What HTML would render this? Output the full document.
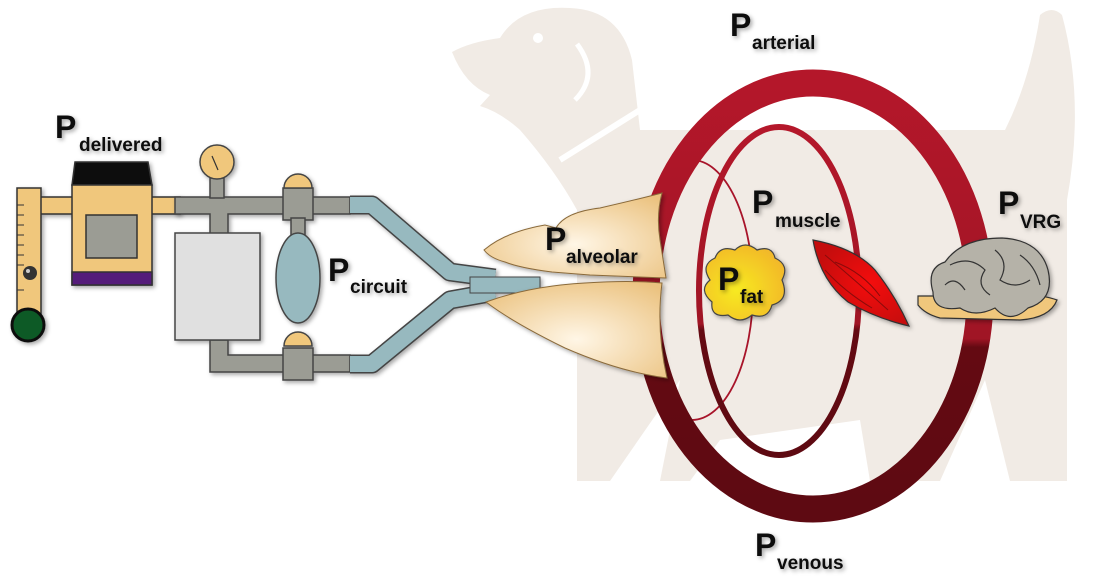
<!DOCTYPE html>
<html><head><meta charset="utf-8"><style>
html,body{margin:0;padding:0;background:#fff;width:1110px;height:581px;overflow:hidden}
text{font-family:"Liberation Sans Narrow","Liberation Sans",sans-serif;font-weight:bold;fill:#111}
.p{font-size:32px;font-family:"Liberation Sans",sans-serif}.s{font-size:19px}
</style></head><body>
<svg width="1110" height="581" viewBox="0 0 1110 581" xmlns="http://www.w3.org/2000/svg">
<defs>
<linearGradient id="ring" x1="0" y1="0" x2="0" y2="1"><stop offset="0" stop-color="#b4172a"/><stop offset="0.6" stop-color="#a01525"/><stop offset="0.62" stop-color="#640a12"/><stop offset="1" stop-color="#5e0a12"/></linearGradient>
<radialGradient id="lung" cx="0.5" cy="0.6" r="0.7"><stop offset="0" stop-color="#fff6e6"/><stop offset="1" stop-color="#ebc27f"/></radialGradient>
<radialGradient id="fat" cx="0.4" cy="0.6" r="0.7"><stop offset="0" stop-color="#f7ea20"/><stop offset="1" stop-color="#f2b52a"/></radialGradient>
<radialGradient id="mus" cx="0.6" cy="0.5" r="0.6"><stop offset="0" stop-color="#f40a0a"/><stop offset="1" stop-color="#c40f10"/></radialGradient>
<filter id="sh"><feDropShadow dx="2" dy="2" stdDeviation="2" flood-opacity="0.35"/></filter>
</defs>
<!-- dog silhouette -->
<path fill="#f1ebe5" d="M452,52 Q470,42 500,38 Q520,5 570,8 Q620,10 632,60 L640,130 L1005,130 Q1030,80 1040,15 Q1052,5 1062,15 Q1085,100 1067,200 L1067,481 L1010,481 L985,380 L940,481 L870,481 L860,420 L720,440 L690,481 L660,481 L680,380 L610,481 L577,481 L577,210 Q555,170 520,130 Q500,112 480,106 L490,95 Q465,85 452,52Z"/>
<path d="M577,44 Q600,75 575,100" fill="none" stroke="#fff" stroke-width="5"/>
<circle cx="538" cy="38" r="5" fill="#fff"/>
<path d="M560,160 L640,110" stroke="#fff" stroke-width="6"/>
<!-- fat ring thin -->
<path d="M692,160 A61,130 0 0 1 692,420" fill="none" stroke="#a8142a" stroke-width="1.8"/>
<!-- muscle ring -->
<ellipse cx="779" cy="291" rx="80" ry="164" fill="none" stroke="url(#ring)" stroke-width="6"/>
<!-- big ring -->
<ellipse cx="813" cy="296" rx="167" ry="213" fill="none" stroke="url(#ring)" stroke-width="27"/>
<!-- flowmeter -->
<g stroke="#333" stroke-width="1.5" filter="url(#sh)">
<rect x="40" y="197" width="140" height="17" fill="#f0c77b"/>
<rect x="17" y="188" width="24" height="140" fill="#f0c77b"/>
<path d="M72,185 L75,162 L148,162 L152,185Z" fill="#111"/>
<rect x="72" y="185" width="80" height="100" fill="#f0c77b"/>
<rect x="72" y="272" width="80" height="13" fill="#541a7a"/>
<rect x="86" y="215" width="51" height="43" fill="#9b9c94"/>
<circle cx="28" cy="325" r="16" fill="#0d5a25" stroke="#111" stroke-width="3"/>
</g>
<g stroke="#333" stroke-width="1">
<line x1="17" y1="205" x2="24" y2="205"/><line x1="17" y1="215" x2="24" y2="215"/><line x1="17" y1="225" x2="24" y2="225"/><line x1="17" y1="235" x2="24" y2="235"/><line x1="17" y1="245" x2="24" y2="245"/><line x1="17" y1="255" x2="24" y2="255"/><line x1="17" y1="265" x2="24" y2="265"/><line x1="17" y1="290" x2="24" y2="290"/>
</g>
<circle cx="30" cy="273" r="7" fill="#333"/><circle cx="28" cy="271" r="2" fill="#ccc"/>
<!-- gray circuit -->
<g fill="#9b9c94" stroke="#444" stroke-width="1.5" filter="url(#sh)">
<path d="M175,197 L350,197 L350,214 L228,214 L228,235 L210,235 L210,214 L175,214Z"/>
<path d="M210,340 L228,340 L228,355 L350,355 L350,372 L210,372Z"/>
<rect x="283" y="188" width="30" height="32"/>
<rect x="283" y="348" width="30" height="32"/>
<rect x="210" y="178" width="14" height="20"/>
<rect x="291" y="218" width="14" height="18"/>
<rect x="175" y="233" width="85" height="107" fill="#e0e0e0"/>
<circle cx="217" cy="162" r="17" fill="#f0c77b"/>
<path d="M284,188 A14,14 0 0 1 312,188Z" fill="#f0c77b"/>
<path d="M284,346 A14,14 0 0 1 312,346Z" fill="#f0c77b"/>
<ellipse cx="298" cy="278" rx="22" ry="45" fill="#97b9bf"/>
</g>
<line x1="212" y1="156" x2="218" y2="170" stroke="#333" stroke-width="1.2"/>
<!-- blue Y -->
<g filter="url(#sh)">
<path d="M350,205 L372,205 L450,272 L495,278 M350,364 L372,364 L450,300 L495,292" fill="none" stroke="#444" stroke-width="19" stroke-linejoin="round"/>
<path d="M350,205 L372,205 L450,272 L495,278 M350,364 L372,364 L450,300 L495,292" fill="none" stroke="#97b9bf" stroke-width="16" stroke-linejoin="round"/>
<rect x="470" y="277" width="70" height="16" fill="#97b9bf" stroke="#444"/>
</g>
<!-- lungs -->
<g fill="url(#lung)" stroke="#8a6a3a" stroke-width="1" filter="url(#sh)">
<path d="M484,250 Q505,232 545,225 L556,228 Q565,212 600,208 Q635,200 662,193 Q656,215 660,240 L666,278 L590,275 L552,272 Q520,268 505,262 Q490,258 484,250Z"/>
<path d="M486,302 Q530,286 585,283 Q630,280 662,283 Q656,330 667,378 Q620,372 565,348 Q512,322 486,302Z"/>
</g>
<!-- fat blob -->
<path d="M715,258 Q720,245 735,250 Q745,240 757,250 Q772,245 775,258 Q790,265 782,280 Q790,300 772,305 Q768,320 752,315 Q740,325 728,315 Q710,318 712,302 Q698,290 710,280 Q700,265 715,258Z" fill="url(#fat)" stroke="#444" stroke-width="1.2" filter="url(#sh)"/>
<!-- muscle -->
<path d="M813,240 Q855,248 875,270 Q895,295 909,326 Q875,318 848,302 Q820,280 813,240Z" fill="url(#mus)" stroke="#333" stroke-width="1.2" filter="url(#sh)"/>
<g stroke="#8a0b0b" stroke-width="1" fill="none"><path d="M825,255 Q855,280 888,310"/><path d="M835,262 Q862,272 880,296"/><path d="M825,270 Q845,292 872,308"/></g>
<!-- brain -->
<g filter="url(#sh)" stroke="#333" stroke-width="1.2">
<path d="M918,296 L1000,296 Q1035,292 1057,300 Q1050,318 1020,320 L940,318 Q925,314 918,305Z" fill="#f0c77b"/>
<path d="M933,292 Q926,268 945,262 Q962,238 1002,238 Q1040,240 1048,270 Q1055,300 1028,308 Q1010,325 995,308 Q975,318 960,308 Q933,312 933,292Z" fill="#b5b2a8"/>
</g>
<g stroke="#333" stroke-width="1.2" fill="none"><path d="M950,265 Q970,255 985,270 Q975,285 990,295"/><path d="M995,250 Q1010,262 1000,280 Q1015,290 1030,280"/><path d="M945,285 Q955,275 965,290"/><path d="M1020,255 Q1035,265 1040,285"/></g>
<!-- labels -->
<g filter="url(#sh)">
<text x="55" y="138" class="p">P</text><text x="79" y="151" class="s">delivered</text>
<text x="328" y="281" class="p">P</text><text x="350" y="293" class="s">circuit</text>
<text x="545" y="250" class="p">P</text><text x="566" y="263" class="s">alveolar</text>
<text x="730" y="36" class="p">P</text><text x="752" y="49" class="s">arterial</text>
<text x="752" y="213" class="p">P</text><text x="775" y="227" class="s">muscle</text>
<text x="998" y="214" class="p">P</text><text x="1020" y="228" class="s">VRG</text>
<text x="718" y="290" class="p">P</text><text x="740" y="303" class="s">fat</text>
<text x="755" y="556" class="p">P</text><text x="777" y="569" class="s">venous</text>
</g>
</svg>
</body></html>
